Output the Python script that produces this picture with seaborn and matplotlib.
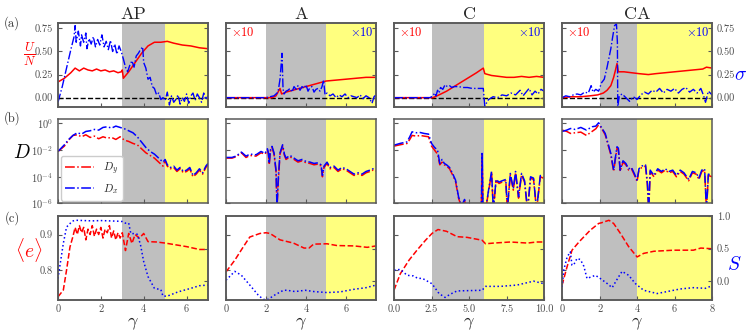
import numpy as np
import matplotlib
matplotlib.use("Agg")
import matplotlib.pyplot as plt
from matplotlib.ticker import FixedLocator, FixedFormatter, NullLocator
import seaborn as sns

# panel layout info
titles = ["AP", "A", "C", "CA"]
x_max = [7, 7.5, 10, 8]
gray_start = [3, 2, 2.5, 2]
yellow_start = [5, 5, 6, 4]
x_ticks = [[0, 2, 4, 6], [0, 2, 4, 6], [0, 2.5, 5, 7.5, 10], [0, 2, 4, 6, 8]]
x_ticklabels = [["0", "2", "4", "6"], ["0", "2", "4", "6"],
                ["0.0", "2.5", "5.0", "7.5", "10.0"], ["0", "2", "4", "6", "8"]]

# ---- row (a): U/N (red) and sigma (blue) ----
u_x_ap = [0, 0.3, 0.6, 0.8, 1.0, 1.2, 1.4, 1.6, 1.8, 2.0, 2.2, 2.4, 2.6, 2.8, 2.95,
          3.0, 3.05, 3.3, 3.6, 3.9, 4.2, 4.5, 4.8, 5.1, 5.4, 5.8, 6.2, 6.6, 7.0]
u_ap = [0.17, 0.21, 0.27, 0.32, 0.29, 0.32, 0.30, 0.29, 0.31, 0.29, 0.30, 0.28, 0.29, 0.27, 0.28,
        0.30, 0.21, 0.28, 0.38, 0.48, 0.56, 0.60, 0.60, 0.61, 0.59, 0.57, 0.56, 0.54, 0.53]
sig_x_ap = [0, 0.2, 0.4, 0.6, 0.75, 0.8, 0.85, 0.95, 1.05, 1.1,
            1.2, 1.3, 1.35, 1.45, 1.55, 1.65, 1.75, 1.85, 1.95, 2.05,
            2.15, 2.25, 2.35, 2.45, 2.55, 2.65, 2.75, 2.85, 2.95, 3.05,
            3.15, 3.25, 3.35, 3.45, 3.55, 3.65, 3.75, 3.85, 3.95, 4.0,
            4.1, 4.2, 4.3, 4.4, 4.5, 4.6, 4.7, 4.8, 4.9, 5.0,
            5.1, 5.2, 5.3, 5.4, 5.5, 5.6, 5.7, 5.8, 5.9, 6.0,
            6.1, 6.2, 6.3, 6.4, 6.5, 6.6, 6.7, 6.8, 6.9, 7.0]
sig_ap = [-0.05, 0.12, 0.32, 0.52, 0.66, 0.78, 0.60, 0.72, 0.56, 0.68,
          0.60, 0.70, 0.53, 0.64, 0.58, 0.66, 0.55, 0.63, 0.57, 0.68,
          0.55, 0.61, 0.52, 0.62, 0.50, 0.58, 0.47, 0.56, 0.50, 0.42,
          0.33, 0.28, 0.35, 0.40, 0.33, 0.45, 0.48, 0.52, 0.55, 0.38,
          0.32, 0.20, 0.22, 0.12, 0.10, 0.03, 0.05, -0.02, 0.00, -0.03,
          0.06, -0.08, 0.02, -0.05, -0.02, 0.03, -0.07, 0.00, -0.04, 0.04,
          -0.06, 0.02, 0.05, -0.03, 0.04, 0.00, -0.05, 0.05, -0.02, 0.02]

u_x_a = [0, 2.3, 2.5, 2.7, 2.78, 3.0, 3.5, 4.0, 4.5, 5.0, 5.5, 6.0, 6.5, 7.0, 7.5]
u_a = [0, 0, 0.02, 0.10, 0.04, 0.06, 0.09, 0.12, 0.15, 0.18, 0.19, 0.20, 0.21, 0.22, 0.22]
sig_x_a = [0, 1.0, 2.0, 2.2, 2.4, 2.6, 2.7, 2.8, 2.85, 2.9,
           3.0, 3.1, 3.2, 3.3, 3.4, 3.5, 3.6, 3.7, 3.8, 3.9,
           4.0, 4.1, 4.2, 4.3, 4.4, 4.5, 4.6, 4.7, 4.8, 4.88,
           4.95, 5.05, 5.2, 5.35, 5.5, 5.65, 5.8, 5.95, 6.1, 6.25,
           6.4, 6.55, 6.7, 6.85, 7.0, 7.15, 7.3, 7.4, 7.5]
sig_a = [0, 0, 0, 0.01, 0.02, 0.06, 0.20, 0.48, 0.10, 0.04,
         0.07, 0.08, 0.10, 0.06, 0.12, 0.09, 0.13, 0.08, 0.12, 0.10,
         0.14, 0.07, 0.11, 0.12, 0.06, 0.09, 0.10, 0.07, 0.12, 0.19,
         0.03, 0.05, 0.02, 0.04, 0.00, 0.03, 0.01, 0.04, 0.00, 0.02,
         0.01, 0.00, 0.03, -0.01, 0.02, 0.00, -0.06, 0.01, 0.03]

u_x_c = [0, 2.6, 3.0, 3.5, 4.0, 4.5, 5.0, 5.5, 5.95, 6.05, 6.5, 7.0, 7.5, 8.0, 8.5, 9.0, 9.5, 10.0]
u_c = [0, 0, 0.03, 0.07, 0.12, 0.17, 0.22, 0.27, 0.32, 0.26, 0.24, 0.23, 0.22, 0.22, 0.23, 0.22, 0.23, 0.22]
sig_x_c = [0, 1.5, 2.4, 2.6, 2.7, 2.8, 2.9, 3.0, 3.1, 3.25,
           3.4, 3.55, 3.7, 3.85, 4.0, 4.3, 4.6, 4.9, 5.2, 5.5,
           5.8, 5.95, 6.05, 6.3, 6.6, 6.9, 7.2, 7.5, 7.8, 8.1,
           8.4, 8.6, 8.8, 9.0, 9.2, 9.4, 9.6, 9.8, 10.0]
sig_c = [0, 0, 0, 0.02, 0.05, 0.02, 0.08, 0.05, 0.11, 0.09,
         0.14, 0.12, 0.13, 0.11, 0.12, 0.12, 0.11, 0.11, 0.10, 0.10,
         0.10, 0.10, -0.09, -0.02, 0.01, 0.00, 0.03, 0.02, 0.05, 0.03,
         0.08, 0.02, 0.06, 0.10, 0.03, 0.07, 0.04, 0.09, 0.07]

u_x_ca = [0, 0.5, 1.0, 1.5, 1.9, 2.2, 2.4, 2.6, 2.75, 2.85,
          2.93, 3.0, 3.3, 3.7, 4.1, 4.6, 5.0, 5.5, 6.0, 6.5, 7.0, 7.5, 7.7, 8.0]
u_ca = [0, 0.01, 0.01, 0.02, 0.03, 0.05, 0.08, 0.13, 0.22, 0.30,
        0.37, 0.28, 0.28, 0.27, 0.26, 0.25, 0.26, 0.27, 0.28, 0.29, 0.30, 0.31, 0.33, 0.32]
sig_x_ca = [0, 0.2, 0.4, 0.6, 0.8, 1.0, 1.2, 1.4, 1.55, 1.65,
            1.8, 1.95, 2.1, 2.25, 2.4, 2.5, 2.6, 2.7, 2.8, 2.9,
            2.95, 2.97, 3.05, 3.2, 3.4, 3.6, 3.8, 4.0, 4.2, 4.4,
            4.6, 4.8, 5.0, 5.2, 5.4, 5.6, 5.8, 6.0, 6.2, 6.4,
            6.6, 6.8, 7.0, 7.2, 7.4, 7.55, 7.65, 7.8, 8.0]
sig_ca = [0.00, 0.02, 0.01, 0.03, 0.04, 0.03, 0.06, 0.05, 0.13, 0.06,
          0.09, 0.07, 0.16, 0.20, 0.33, 0.43, 0.53, 0.66, 0.78, 0.80,
          0.60, -0.10, 0.02, 0.04, 0.00, -0.04, 0.01, -0.02, 0.03, 0.06,
          0.04, 0.08, 0.06, 0.10, 0.05, 0.09, 0.07, 0.10, 0.05, 0.09,
          0.11, 0.06, 0.09, 0.05, 0.10, 0.02, -0.05, 0.07, 0.03]

# ---- row (b): log10 of D_y (red) and D_x (blue) ----
d_x_ap = [0, 0.3, 0.5, 0.7, 0.9, 1.1, 1.3, 1.5, 1.7, 1.9,
          2.1, 2.3, 2.5, 2.7, 2.9, 3.1, 3.3, 3.5, 3.7, 3.9,
          4.1, 4.3, 4.5, 4.7, 4.9, 5.0, 5.1, 5.25, 5.4, 5.55,
          5.7, 5.85, 6.0, 6.15, 6.3, 6.45, 6.6, 6.75, 6.9, 7.0]
logdx_ap = [-2.1, -1.6, -1.2, -0.9, -0.7, -0.8, -0.6, -0.55, -0.45, -0.5,
            -0.3, -0.25, -0.35, -0.2, -0.3, -0.4, -0.55, -0.7, -1.0, -1.4,
            -1.8, -2.1, -2.3, -2.6, -2.9, -2.7, -3.1, -3.3, -3.2, -3.5,
            -3.3, -3.6, -3.5, -3.3, -3.9, -3.7, -3.4, -3.7, -3.2, -3.0]
logdy_ap = [-2.1, -1.7, -1.25, -0.9, -0.85, -1.0, -0.85, -1.05, -0.95, -1.15,
            -1.0, -1.1, -1.05, -1.2, -1.0, -1.25, -1.35, -1.5, -1.6, -1.9,
            -2.2, -2.4, -2.6, -2.9, -3.2, -2.8, -3.2, -3.4, -3.3, -3.6,
            -3.4, -3.7, -3.6, -3.4, -4.0, -3.8, -3.5, -3.8, -3.3, -3.1]

d_x_a = [0, 0.3, 0.5, 0.77, 1.0, 1.2, 1.5, 1.75, 1.95, 2.07,
         2.12, 2.16, 2.22, 2.3, 2.4, 2.5, 2.55, 2.62, 2.7, 2.83,
         2.92, 3.0, 3.2, 3.4, 3.6, 3.8, 4.0, 4.2, 4.4, 4.6,
         4.75, 4.82, 4.9, 5.05, 5.2, 5.4, 5.6, 5.8, 6.0, 6.2,
         6.4, 6.6, 6.8, 7.0, 7.2, 7.35, 7.5]
logdx_a = [-2.55, -2.55, -2.45, -2.15, -2.45, -2.3, -2.35, -2.1, -2.25, -1.9,
           -2.2, -3.0, -2.0, -1.72, -2.2, -3.5, -6.2, -4.0, -2.2, -1.6,
           -2.3, -2.6, -2.4, -2.6, -2.8, -2.7, -2.85, -2.9, -3.0, -2.95,
           -3.1, -3.9, -3.2, -2.9, -3.3, -3.2, -3.5, -3.3, -3.4, -3.6,
           -3.8, -3.7, -3.8, -3.6, -3.5, -3.4, -3.5]
logdy_a = [-2.6, -2.6, -2.5, -2.2, -2.55, -2.4, -2.45, -2.2, -2.3, -2.0,
           -2.3, -3.1, -2.1, -1.8, -2.3, -3.6, -6.3, -4.2, -2.3, -1.7,
           -2.4, -2.7, -2.5, -2.7, -2.9, -2.8, -2.95, -3.0, -3.1, -3.05,
           -3.2, -4.0, -3.3, -3.0, -3.4, -3.3, -3.6, -3.4, -3.5, -3.7,
           -3.9, -3.8, -3.9, -3.7, -3.6, -3.5, -3.6]

d_x_c = [0, 0.4, 0.87, 1.05, 1.2, 1.5, 1.75, 2.0, 2.3, 2.5,
         2.7, 2.9, 3.05, 3.2, 3.35, 3.5, 3.7, 3.9, 4.1, 4.3,
         4.5, 4.7, 4.9, 5.1, 5.3, 5.5, 5.7, 5.82, 5.87, 5.93,
         6.1, 6.3, 6.5, 6.62, 6.8, 7.0, 7.2, 7.45, 7.55, 7.75,
         7.95, 8.1, 8.3, 8.5, 8.7, 8.9, 9.1, 9.3, 9.5, 9.75,
         9.95]
logdx_c = [-1.63, -1.5, -1.38, -1.0, -0.63, -0.7, -0.68, -0.75, -0.8, -1.5,
           -1.8, -2.0, -3.0, -2.7, -3.0, -3.1, -3.3, -3.75, -4.25, -5.5,
           -6.2, -5.7, -6.5, -6.5, -6.5, -6.5, -6.5, -6.5, -2.25, -6.5,
           -6.5, -5.0, -3.6, -6.5, -4.2, -4.4, -4.3, -4.2, -6.5, -3.75,
           -4.9, -3.6, -5.5, -3.75, -4.3, -6.5, -4.0, -4.1, -6.5, -3.9,
           -4.0]
logdy_c = [-1.7, -1.6, -1.5, -1.2, -0.9, -0.95, -0.9, -0.95, -1.0, -1.7,
           -2.0, -2.3, -3.1, -2.9, -3.1, -3.2, -3.4, -3.85, -4.35, -5.6,
           -6.3, -5.8, -6.5, -6.5, -6.5, -6.5, -6.5, -6.5, -2.3, -6.5,
           -6.5, -5.1, -3.7, -6.5, -4.3, -4.5, -4.4, -4.3, -6.5, -3.85,
           -5.0, -3.7, -5.6, -3.85, -4.4, -6.5, -4.1, -4.2, -6.5, -4.0,
           -4.1]

d_x_ca = [0, 0.25, 0.45, 0.7, 1.0, 1.3, 1.6, 1.8, 1.95, 2.1,
          2.3, 2.45, 2.6, 2.75, 2.85, 2.93, 3.0, 3.1, 3.25, 3.4,
          3.55, 3.7, 3.85, 4.0, 4.1, 4.25, 4.45, 4.55, 4.62, 4.7,
          4.9, 5.1, 5.3, 5.5, 5.7, 5.9, 6.1, 6.3, 6.5, 6.75,
          6.95, 7.15, 7.3, 7.45, 7.6, 7.7, 7.8, 8.0]
logdx_ca = [-0.6, -0.5, -0.38, -0.45, -0.3, -0.5, -0.25, -0.2, 0.05, -0.3,
            -0.75, -1.5, -2.25, -3.5, -2.5, -1.75, -1.85, -3.5, -2.8, -3.0,
            -3.4, -3.3, -3.75, -4.25, -3.4, -3.2, -3.1, -4.5, -6.5, -3.5,
            -3.9, -3.4, -3.6, -3.4, -3.6, -3.5, -3.9, -3.5, -3.7, -4.2,
            -3.6, -3.7, -4.1, -3.5, -3.4, -6.5, -3.8, -3.9]
logdy_ca = [-0.5, -0.6, -0.75, -0.7, -0.65, -0.9, -0.6, -0.4, -0.1, -0.35,
            -0.85, -1.6, -2.35, -3.6, -2.6, -1.85, -1.95, -3.6, -2.9, -3.1,
            -3.5, -3.4, -3.85, -4.35, -3.5, -3.3, -3.2, -4.6, -6.5, -3.6,
            -4.0, -3.5, -3.7, -3.5, -3.7, -3.6, -4.0, -3.6, -3.8, -4.3,
            -3.7, -3.8, -4.2, -3.6, -3.5, -6.5, -3.9, -4.0]

# ---- row (c): <e> (red) and S (blue) ----
e_x_ap = [0, 0.25, 0.4, 0.56, 0.7, 0.8, 0.9, 1.0, 1.1, 1.2,
          1.3, 1.4, 1.5, 1.6, 1.7, 1.8, 1.9, 2.0, 2.1, 2.2,
          2.3, 2.4, 2.5, 2.6, 2.7, 2.8, 2.9, 3.0, 3.15, 3.3,
          3.45, 3.6, 3.8, 4.0, 4.2, 4.6, 5.0, 5.5, 6.0, 6.6, 7.0]
e_ap = [0.725, 0.744, 0.80, 0.865, 0.895, 0.92, 0.90, 0.925, 0.905, 0.92,
        0.885, 0.915, 0.90, 0.925, 0.895, 0.915, 0.90, 0.92, 0.89, 0.915,
        0.905, 0.925, 0.89, 0.91, 0.885, 0.905, 0.89, 0.905, 0.855, 0.903,
        0.875, 0.90, 0.89, 0.903, 0.88, 0.879, 0.876, 0.871, 0.866, 0.858, 0.858]
s_x_ap = [0, 0.25, 0.4, 0.67, 0.8, 1.2, 1.6, 2.0, 2.4, 2.8,
          3.0, 3.15, 3.3, 3.4, 3.6, 3.7, 3.85, 4.0, 4.2, 4.5,
          4.8, 4.9, 5.1, 5.6, 6.2, 6.6, 7.0]
s_ap = [0.04, 0.58, 0.83, 0.92, 0.935, 0.93, 0.925, 0.93, 0.925, 0.92,
        0.915, 0.89, 0.89, 0.73, 0.73, 0.72, 0.56, 0.30, 0.07, -0.11,
        -0.13, -0.23, -0.23, -0.165, -0.11, -0.07, -0.06]

e_x_a = [0, 0.44, 0.86, 1.19, 1.7, 2.0, 2.2, 2.7, 3.37, 3.9, 4.15, 4.38, 5.05, 5.55, 6.4, 7.06, 7.5]
e_a = [0.795, 0.828, 0.865, 0.893, 0.903, 0.905, 0.903, 0.885, 0.876, 0.862,
       0.862, 0.873, 0.874, 0.869, 0.868, 0.864, 0.868]
s_x_a = [0, 0.44, 0.77, 1.19, 1.6, 1.86, 2.1, 2.45, 2.87, 3.05, 3.45, 3.96, 4.4, 5.05, 5.7, 6.4, 7.0, 7.5]
s_a = [0.015, 0.15, 0.09, -0.06, -0.21, -0.28, -0.28, -0.21, -0.14, -0.14,
       -0.16, -0.14, -0.16, -0.175, -0.165, -0.125, -0.1, -0.06]

e_x_c = [0, 0.42, 1.0, 1.53, 2.1, 2.53, 2.93, 3.5, 4.2, 4.87, 5.87, 6.1, 6.65, 7.75, 8.9, 9.5, 10.0]
e_c = [0.744, 0.79, 0.828, 0.856, 0.884, 0.903, 0.914, 0.909, 0.894, 0.892,
       0.884, 0.874, 0.876, 0.879, 0.876, 0.879, 0.879]
s_x_c = [0, 0.42, 0.87, 1.3, 1.6, 1.87, 2.3, 2.53, 3.0, 3.4, 3.75, 4.2, 5.87, 6.1, 7.1, 8.2, 9.3, 10.0]
s_c = [0.17, 0.18, 0.09, 0.08, 0.04, 0.045, -0.01, -0.04, -0.19, -0.25,
       -0.2, -0.15, -0.14, -0.08, -0.08, -0.06, 0.0, -0.04]

e_x_ca = [0, 0.27, 0.53, 0.9, 1.5, 1.95, 2.1, 2.5, 2.75, 3.1, 3.55, 4.0, 4.35, 4.9, 5.96, 7.0, 7.4, 8.0]
e_ca = [0.758, 0.81, 0.856, 0.879, 0.912, 0.931, 0.933, 0.94, 0.931, 0.904,
        0.866, 0.837, 0.847, 0.853, 0.856, 0.856, 0.862, 0.86]
s_x_ca = [0, 0.09, 0.27, 0.44, 0.53, 0.62, 0.8, 0.98, 1.16, 1.33,
          1.5, 1.78, 2.04, 2.4, 2.67, 3.0, 3.2, 3.55, 3.9, 4.35,
          5.07, 5.6, 6.3, 7.0, 7.64, 8.0]
s_ca = [-0.09, 0.17, 0.37, 0.45, 0.245, 0.25, 0.35, 0.33, 0.23, 0.04,
        0.06, 0.09, 0.04, -0.035, -0.1, 0.06, 0.15, 0.09, -0.035, -0.14,
        -0.19, -0.16, -0.12, -0.1, -0.11, -0.07]

row_a = [(u_x_ap, u_ap, sig_x_ap, sig_ap), (u_x_a, u_a, sig_x_a, sig_a),
         (u_x_c, u_c, sig_x_c, sig_c), (u_x_ca, u_ca, sig_x_ca, sig_ca)]
row_b = [(d_x_ap, logdy_ap, logdx_ap), (d_x_a, logdy_a, logdx_a),
         (d_x_c, logdy_c, logdx_c), (d_x_ca, logdy_ca, logdx_ca)]
row_c = [(e_x_ap, e_ap, s_x_ap, s_ap), (e_x_a, e_a, s_x_a, s_a),
         (e_x_c, e_c, s_x_c, s_c), (e_x_ca, e_ca, s_x_ca, s_ca)]

sns.set_style("ticks")
plt.rcParams.update({
    "font.family": ["cmr10", "DejaVu Serif"],
    "mathtext.fontset": "cm",
    "axes.unicode_minus": False,
    "axes.formatter.use_mathtext": True,
    "axes.edgecolor": "0.35",
    "axes.linewidth": 1.1,
    "xtick.color": "0.35",
    "ytick.color": "0.35",
    "xtick.labelcolor": "0.3",
    "ytick.labelcolor": "0.3",
    "xtick.direction": "in",
    "ytick.direction": "in",
    "xtick.major.size": 3,
    "ytick.major.size": 3,
    "xtick.labelsize": 7.5,
    "ytick.labelsize": 7.5,
})

fig, axes = plt.subplots(3, 4, figsize=(7.48, 3.36), dpi=100)
plt.subplots_adjust(left=0.0775, right=0.952, top=0.932, bottom=0.107,
                    wspace=0.12, hspace=0.149)

ylim_a = (-0.1, 0.81)
ylim_b = (1e-6, 2.0)
ylim_e = (0.716, 0.952)
ylim_s = (-0.29, 1.0)


def line(ax, x, y, color, ls, lw=1.0):
    sns.lineplot(x=x, y=y, ax=ax, color=color, linestyle=ls, linewidth=lw,
                 estimator=None, sort=False, legend=False)


for j in range(4):
    for i in range(3):
        ax = axes[i, j]
        ax.axvspan(gray_start[j], yellow_start[j], color="gray", alpha=0.5, lw=0, zorder=0)
        ax.axvspan(yellow_start[j], x_max[j], color="yellow", alpha=0.5, lw=0, zorder=0)
        ax.set_xlim(0, x_max[j])
        ax.xaxis.set_major_locator(FixedLocator(x_ticks[j]))
        ax.xaxis.set_major_formatter(FixedFormatter(x_ticklabels[j]))
        ax.xaxis.set_minor_locator(NullLocator())
        if i < 2:
            ax.tick_params(axis="x", labelbottom=False)
        if j > 0:
            ax.tick_params(axis="y", labelleft=False)
        for s in ax.spines.values():
            s.set_visible(True)

    # row (a)
    ax = axes[0, j]
    ux, u, sx, sg = row_a[j]
    ax.axhline(0, color="black", ls="--", lw=1.0, zorder=1)
    line(ax, ux, u, "red", "-", 1.1)
    ax.set_ylim(*ylim_a)
    ax.set_yticks([0, 0.25, 0.5, 0.75])
    ax.set_yticklabels(["0.00", "0.25", "0.50", "0.75"])
    ax.set_ylabel("")
    ax.set_title(titles[j], fontsize=13, pad=3)
    tw = ax.twinx()
    line(tw, sx, sg, "blue", "-.", 1.0)
    tw.set_ylim(*ylim_a)
    tw.set_yticks([0, 0.25, 0.5, 0.75])
    tw.set_yticklabels(["0.00", "0.25", "0.50", "0.75"])
    tw.set_ylabel("")
    tw.tick_params(axis="y", labelright=(j == 3))
    if j > 0:
        ax.text(0.03, 0.965, r"$\times 10$", color="red", fontsize=9,
                transform=ax.transAxes, ha="left", va="top", zorder=5)
        ax.text(0.985, 0.965, r"$\times 10$", color="blue", fontsize=9,
                transform=ax.transAxes, ha="right", va="top", zorder=5)

    # row (b)
    ax = axes[1, j]
    dx_, ldy, ldx = row_b[j]
    ax.set_yscale("log")
    line(ax, dx_, np.power(10.0, ldy), "red", "-.", 1.1)
    line(ax, dx_, np.power(10.0, ldx), "blue", "-.", 1.1)
    ax.set_ylim(*ylim_b)
    ax.yaxis.set_major_locator(FixedLocator([1e-6, 1e-4, 1e-2, 1e0]))
    ax.yaxis.set_minor_locator(NullLocator())
    ax.set_ylabel("")
    if j == 0:
        hs = ax.get_lines()[-2:]
        ax.legend(hs, [r"$D_y$", r"$D_x$"], loc="lower left", fontsize=8,
                  handlelength=2.6, borderaxespad=0.25, framealpha=1,
                  edgecolor="0.8", labelspacing=0.5)

    # row (c)
    ax = axes[2, j]
    ex, e, sx, s = row_c[j]
    line(ax, ex, e, "red", "--", 1.1)
    ax.set_ylim(*ylim_e)
    ax.set_yticks([0.8, 0.9])
    ax.set_yticklabels(["0.8", "0.9"])
    ax.set_ylabel("")
    ax.set_xlabel(r"$\gamma$", fontsize=13, labelpad=1)
    tw = ax.twinx()
    line(tw, sx, s, "blue", ":", 1.1)
    tw.set_ylim(*ylim_s)
    tw.set_yticks([0.0, 0.5, 1.0])
    tw.set_yticklabels(["0.0", "0.5", "1.0"])
    tw.set_ylabel("")
    tw.tick_params(axis="y", labelright=(j == 3))

fig.text(0.016, 0.932, "(a)", fontsize=9, ha="center", va="center", color="0.2")
fig.text(0.016, 0.649, "(b)", fontsize=9, ha="center", va="center", color="0.2")
fig.text(0.016, 0.351, "(c)", fontsize=9, ha="center", va="center", color="0.2")
fig.text(0.040, 0.839, r"$\frac{U}{N}$", fontsize=13, color="red", ha="center", va="center")
fig.text(0.029, 0.545, r"$D$", fontsize=14, color="black", ha="center", va="center")
fig.text(0.038, 0.256, r"$\langle e\rangle$", fontsize=14, color="red", ha="center", va="center")
fig.text(0.99, 0.777, r"$\sigma$", fontsize=14, color="blue", ha="center", va="center")
fig.text(0.982, 0.211, r"$S$", fontsize=14, color="blue", ha="center", va="center")

fig.savefig("out.png", dpi=100)
